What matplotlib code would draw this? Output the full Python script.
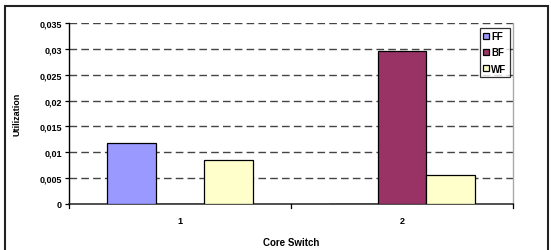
import matplotlib
matplotlib.use("Agg")
import matplotlib.pyplot as plt
import matplotlib.patches as mpatches
import numpy as np

categories = ["1", "2"]
series = ["FF", "BF", "WF"]
ff = [0.0117, 0.0]
bf = [0.0, 0.0296]
wf = [0.0085, 0.0056]
colors = ["#9999FF", "#993366", "#FFFFCC"]
yticks = [0, 0.005, 0.01, 0.015, 0.02, 0.025, 0.03, 0.035]
ytick_labels = ["0", "0,005", "0,01", "0,015", "0,02", "0,025", "0,03", "0,035"]

plt.rcParams['font.family'] = ['Liberation Sans', 'DejaVu Sans']

fig = plt.figure(figsize=(5.51, 2.51), dpi=100)
ax = fig.add_axes([69/551, 1-205/251, 444/551, 181/251])

x = np.arange(len(categories))
w = 0.22
for i, (vals, c, name) in enumerate(zip([ff, bf, wf], colors, series)):
    ax.bar(x + (i-1)*w, vals, width=w, color=c, edgecolor="black", linewidth=0.9,
           label=name, zorder=3)

ax.set_xlim(-0.5, 1.5)
ax.set_ylim(0, 0.035)
ax.set_yticks(yticks)
ax.set_yticklabels(ytick_labels, fontsize=6.5, fontweight="bold")
ax.set_xticks(x)
ax.set_xticklabels(categories, fontsize=6.5, fontweight="bold")
ax.tick_params(axis="x", length=0, pad=9)
ax.tick_params(axis="y", length=3, width=0.9, direction="out", pad=2)
# category separator ticks
for xs in [-0.5, 0.5, 1.5]:
    ax.plot([xs, xs], [0, -0.0007], color="black", lw=0.9, clip_on=False, zorder=4)

for yv in yticks[1:]:
    ax.axhline(yv, color="#444444", lw=1.0, dashes=(5.5, 3), zorder=1)

ax.spines["left"].set_color("black")
ax.spines["left"].set_linewidth(1.0)
ax.spines["bottom"].set_color("#333333")
ax.spines["bottom"].set_linewidth(1.2)
ax.spines["top"].set_visible(False)
ax.spines["right"].set_color("#aaaaaa")
ax.spines["right"].set_linewidth(1.0)

ax.set_ylabel("Utilization", fontsize=6.5, fontweight="bold", labelpad=13)
ax.set_xlabel("Core Switch", fontsize=7, fontweight="bold", labelpad=8)

leg = ax.legend(loc="upper right", bbox_to_anchor=(0.997, 0.985),
                prop={"size": 7, "weight": "bold"},
                frameon=True, fancybox=False, edgecolor="black",
                handlelength=0.6, handleheight=0.6, handletextpad=0.25,
                borderpad=0.35, labelspacing=0.65, borderaxespad=0.2)
leg.get_frame().set_linewidth(0.9)

frame = mpatches.Rectangle((5/551, -0.05), 543/551, 1.05 - 7/251,
                           transform=fig.transFigure, fill=False,
                           edgecolor="#222222", linewidth=1.5, clip_on=False)
fig.patches.append(frame)

fig.savefig("out.png", dpi=100)
